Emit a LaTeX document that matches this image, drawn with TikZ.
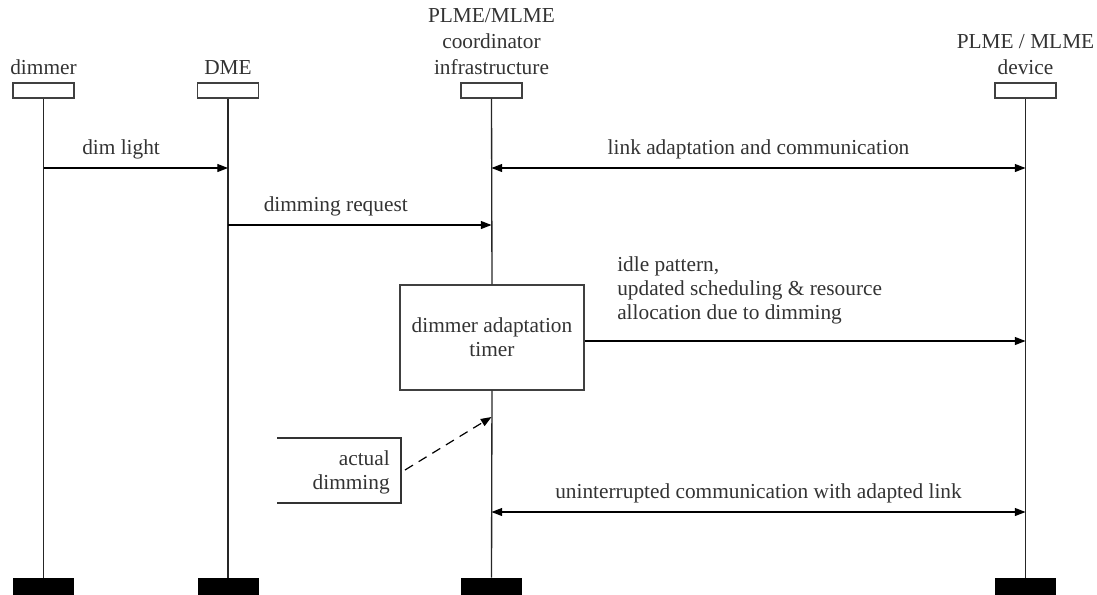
\documentclass[tikz,border=0pt]{standalone}
\usepackage{fontspec}
\setmainfont{Liberation Serif}
\usetikzlibrary{arrows.meta}
\begin{document}
\begin{tikzpicture}[x=0.75pt,y=-0.75pt,
  font=\fontsize{16}{18}\selectfont,
  head/.style={draw=black!75,line width=0.9pt,minimum width=45.75pt,minimum height=11.25pt,inner sep=0pt,fill=white},
  foot/.style={fill=black,minimum width=45.75pt,minimum height=24pt,inner sep=0pt},
  life/.style={line width=1pt,black!85},
  msg/.style={line width=0.8pt,-{Triangle[length=8pt,width=6pt]}},
  bimsg/.style={line width=0.8pt,{Triangle[length=8pt,width=6pt]}-{Triangle[length=8pt,width=6pt]}},
  lbl/.style={inner sep=0pt,text=black!80}]
\useasboundingbox (0,0) rectangle (1097,594);

% lifeline heads
\node[head] (hA) at (43.5,90.5) {};
\node[head] (hB) at (228,90.5) {};
\node[head] (hC) at (491.5,90.5) {};
\node[head] (hD) at (1025.5,90.5) {};
% lifeline feet (cut by the lower edge)
\node[foot] (fA) at (43.5,594) {};
\node[foot] (fB) at (228,594) {};
\node[foot] (fC) at (491.5,594) {};
\node[foot] (fD) at (1025.5,594) {};

% participant names
\node[lbl,anchor=base] (nA) at (43.5,74) {dimmer};
\node[lbl,anchor=base] (nB) at (228,74) {DME};
\node[lbl,anchor=base,align=center,font=\fontsize{16}{19.5}\selectfont] (nC) at (491.5,74) {PLME/MLME\\coordinator\\infrastructure};
\node[lbl,anchor=base,align=center,font=\fontsize{16}{19.5}\selectfont] (nD) at (1025.5,74) {PLME / MLME\\device};

% timer box on the coordinator lifeline
\node[draw=black!75,line width=0.9pt,minimum width=138pt,minimum height=78.75pt,align=center,text=black!80] (tm) at (492,337.5) {dimmer adaptation\\timer};

% lifelines
\draw[life] (hA.south) -- (fA.north);
\draw[life] (hB.south) -- (fB.north);
\draw[life] (hC.south) -- (tm.north);
\draw[life] (tm.south) -- (fC.north);
\draw[life] (hD.south) -- (fD.north);

% messages
\coordinate (a1) at (43.5,168);   \coordinate (b1) at (228,168);
\coordinate (c1) at (491.5,168);  \coordinate (d1) at (1025.5,168);
\coordinate (b2) at (228,225);    \coordinate (c2) at (491.5,225);
\coordinate (d3) at (1025.5,341);
\coordinate (c4) at (491.5,512);  \coordinate (d4) at (1025.5,512);
\coordinate (c5) at (491.5,417);

\draw[msg] (a1) -- node[lbl,above=6pt,xshift=-11pt] {dim light} (b1);
\draw[bimsg] (c1) -- node[lbl,above=6pt] {link adaptation and communication} (d1);
\draw[msg] (b2) -- node[lbl,above=6pt,xshift=-18pt] {dimming request} (c2);
\draw[msg] (tm.east |- d3) -- (d3);
\node[lbl,anchor=base west,align=left] (t3) at (617,319) {idle pattern,\\updated scheduling \& resource\\allocation due to dimming};
\draw[bimsg] (c4) -- node[lbl,above=6pt] {uninterrupted communication with adapted link} (d4);

% note: actual dimming
\draw[black!80,line width=0.9pt] (277,438) -- (401,438) -- (401,503) -- (277,503);
\node[lbl,anchor=base east,align=right] (nt) at (390,489) {actual\\dimming};
\coordinate (n0) at (405,470);
\draw[line width=0.9pt,dash pattern=on 7pt off 5pt,-{Triangle[length=8pt,width=6pt]}] (n0) -- (c5);
\end{tikzpicture}
\end{document}
